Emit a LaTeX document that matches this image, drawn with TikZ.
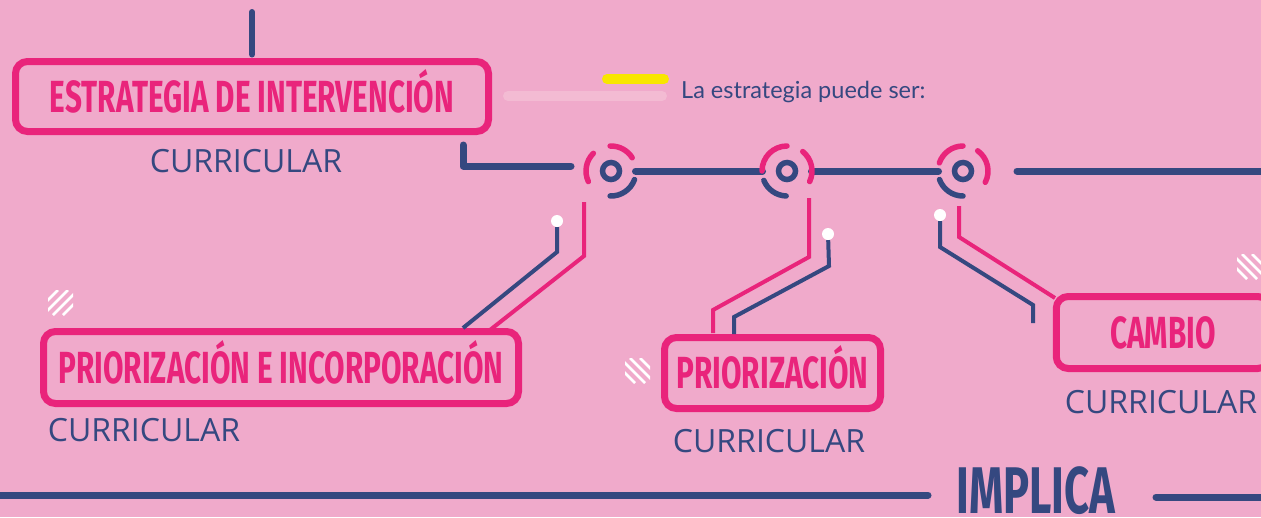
\documentclass[tikz,border=0pt]{standalone}
\usepackage{fontspec}
\setmainfont{Open Sans}
\newfontfamily\titlefont[FakeStretch=0.66]{Fira Sans}
\newfontfamily\notefont{Lato}
\definecolor{fondo}{HTML}{F0AACB}
\definecolor{rosa}{HTML}{E9247B}
\definecolor{azul}{HTML}{354880}
\definecolor{amarillo}{HTML}{F8E600}
\definecolor{rosaclaro}{HTML}{F3BBD3}

\begin{document}
\begin{tikzpicture}[x=1pt,y=-1pt]
 \tikzstyle{caja}=[rectangle,rounded corners=12pt,draw=rosa,line width=7pt,text=rosa,inner sep=0pt,font=\titlefont\bfseries\fontsize{45}{45}\selectfont,text height=31pt,text depth=0pt]
 \tikzstyle{curri}=[text=azul,inner sep=0pt,font=\fontsize{32}{32}\selectfont]
 \tikzstyle{anillo}=[circle,draw=azul,line width=5.5pt,minimum size=17pt,inner sep=0pt,outer sep=16pt]
 \tikzstyle{eje}=[draw=azul,line width=7pt,line cap=round,line join=round]
 \tikzstyle{arcorosa}=[draw=rosa,line width=5.5pt,line cap=round]
 \tikzstyle{arcoazul}=[draw=azul,line width=5.5pt,line cap=round]
 \tikzstyle{cablerosa}=[draw=rosa,line width=4pt]
 \tikzstyle{cableazul}=[draw=azul,line width=4pt]
 \tikzstyle{punto}=[circle,fill=white,inner sep=0pt,minimum size=12pt]
 \tikzstyle{rayas}=[white,line width=2.5pt]
 \useasboundingbox (0,0) rectangle (1261,517);
 \fill[fondo] (0,0) rectangle (1261,517);
 \clip (0,0) rectangle (1261,517);

 % cajas
 \node[caja,minimum width=473pt,minimum height=70pt] (estrategia) at (252,96.5) {ESTRATEGIA DE INTERVENCIÓN};
 \node[caja,minimum width=475pt,minimum height=72pt] (prio1) at (281,367.5) {PRIORIZACIÓN E INCORPORACIÓN};
 \node[caja,minimum width=216pt,minimum height=71pt] (prio2) at (772.5,373) {PRIORIZACIÓN};
 \node[caja,minimum width=213.5pt,minimum height=72pt] (cambio) at (1163,332.5) {CAMBIO};
 \node[curri] (cu1) at (246,161) {CURRICULAR};
 \node[curri] (cu2) at (144,430) {CURRICULAR};
 \node[curri] (cu3) at (769,441) {CURRICULAR};
 \node[curri] (cu4) at (1161,402) {CURRICULAR};

 % nota
 \coordinate (am1) at (607,79);
 \coordinate (am2) at (664,79);
 \coordinate (cl1) at (508,96);
 \coordinate (cl2) at (662,96);
 \draw[rosaclaro,line width=10pt,line cap=round] (cl1) -- (cl2);
 \draw[amarillo,line width=10pt,line cap=round] (am1) -- (am2);
 \node[anchor=base west,text=azul,inner sep=0pt,font=\notefont\fontsize{23.5}{23.5}\selectfont] (nota) at (681,98) {La estrategia puede ser:};

 % eje principal
 \node[anillo] (c1) at (611,171) {};
 \node[anillo] (c2) at (787,171) {};
 \node[anillo] (c3) at (963,171) {};
 \coordinate (arriba) at (252,12);
 \coordinate (ese) at (463,145);
 \coordinate (ese2) at (571,166);
 \coordinate (fin1) at (1017,171);
 \coordinate (fin2) at (1268,171);
 \draw[eje,line width=6pt,shorten >=3.5pt] (arriba) -- (estrategia.north);
 \draw[eje] (ese) -- (463,166) -- (ese2);
 \draw[eje] (c1) -- (c2);
 \draw[eje] (c2) -- (c3);
 \draw[eje] (fin1) -- (fin2);
 \draw[arcorosa] (c1.center) ++(-135:25) arc (-135:-205:25);
 \draw[arcorosa] (c1.center) ++(-32:25) arc (-32:-92:25);
 \draw[arcoazul] (c1.center) ++(20:25) arc (20:92:25);
 \draw[arcorosa] (c2.center) ++(-90:25) arc (-90:-180:25);
 \draw[arcorosa] (c2.center) ++(25:25) arc (25:-51:25);
 \draw[arcoazul] (c2.center) ++(-202:25) arc (-202:-268:25);
 \draw[arcorosa] (c3.center) ++(-90:25) arc (-90:-161:25);
 \draw[arcorosa] (c3.center) ++(27:25) arc (27:-54:25);
 \draw[arcoazul] (c3.center) ++(-200:25) arc (-200:-270:25);

 % cables
 \coordinate (r1) at (584,202);
 \coordinate (r1b) at (490,330);
 \coordinate (r2) at (809,198);
 \coordinate (r2b) at (713,333);
 \coordinate (r3) at (959,206);
 \coordinate (r3b) at (1055,298);
 \coordinate (a1b) at (463,328);
 \coordinate (a2b) at (734,334);
 \coordinate (a3b) at (1033,323);
 \draw[cablerosa] (r1) -- (584,256) -- (r1b);
 \draw[cablerosa] (r2) -- (809,257) -- (713,310) -- (r2b);
 \draw[cablerosa] (r3) -- (959,237) -- (r3b);
 \node[punto] (d1) at (557,221) {};
 \node[punto] (d2) at (828,234) {};
 \node[punto] (d3) at (940,215) {};
 \draw[cableazul] (d1) -- (557,252) -- (a1b);
 \draw[cableazul] (d2) -- (829,266) -- (734,317) -- (a2b);
 \draw[cableazul] (d3) -- (940,247) -- (1033,305) -- (a3b);

 % rayas
 \begin{scope}
  \clip (48,290) rectangle (73,315);
  \draw[rayas] (33,315) -- (58,290);
  \draw[rayas] (43,315) -- (68,290);
  \draw[rayas] (53,315) -- (78,290);
  \draw[rayas] (63,315) -- (88,290);
 \end{scope}
 \begin{scope}
  \clip (625,358) rectangle (650,383);
  \draw[rayas] (610,358) -- (635,383);
  \draw[rayas] (620,358) -- (645,383);
  \draw[rayas] (630,358) -- (655,383);
  \draw[rayas] (640,358) -- (665,383);
 \end{scope}
 \begin{scope}
  \clip (1237,254) rectangle (1262,279);
  \draw[rayas] (1222,254) -- (1247,279);
  \draw[rayas] (1232,254) -- (1257,279);
  \draw[rayas] (1242,254) -- (1267,279);
  \draw[rayas] (1252,254) -- (1277,279);
 \end{scope}

 % implica
 \node[anchor=base,text=azul,inner sep=0pt,text depth=0pt,font=\titlefont\bfseries\fontsize{66}{66}\selectfont] (implica) at (1036,513) {IMPLICA};
 \coordinate (b0) at (-5,495);
 \coordinate (b1) at (928,495);
 \coordinate (b2) at (1156,497);
 \coordinate (b3) at (1268,497);
 \draw[eje] (b0) -- (b1);
 \draw[eje] (b2) -- (b3);
\end{tikzpicture}
\end{document}
